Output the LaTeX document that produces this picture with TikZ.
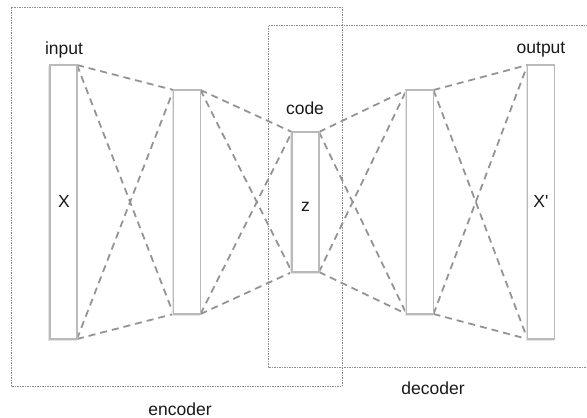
\documentclass[tikz,border=0pt]{standalone}
\usepackage{fontspec}
\setmainfont{Liberation Sans}[Ligatures=TeXOff]
\begin{document}
\begin{tikzpicture}[x=1pt,y=-1pt,
  bar/.style={draw=black!25, fill=white, line width=1.4pt, minimum width=27pt, inner sep=0pt, outer sep=0pt},
  link/.style={draw=black!42, line width=1.8pt, dash pattern=on 7pt off 5pt},
  group/.style={draw=black!45, line width=0.6pt, dash pattern=on 1.5pt off 1pt},
  lbl/.style={font=\fontsize{17.5}{20}\selectfont, inner sep=0pt, text=black!90}]
\useasboundingbox (0,0) rectangle (587,418);
% group boxes
\draw[group] (11,7) rectangle (342,386);
\draw[group] (590,25) -- (268,25) -- (268,367) -- (590,367);
\node[lbl] (enc) at (180,409) {encoder};
\node[lbl] (dec) at (433,388) {decoder};
% layers (coordinates only, drawn later)
\path (63.5,202) node[bar, minimum height=274pt, draw=none, fill=none] (l1) {};
\path (187,202) node[bar, minimum height=224pt, draw=none, fill=none] (l2) {};
\path (305.5,202) node[bar, minimum height=140pt, draw=none, fill=none] (l3) {};
\path (420,202) node[bar, minimum height=224pt, draw=none, fill=none] (l4) {};
\path (541,202) node[bar, minimum height=274pt, draw=none, fill=none] (l5) {};
% links
\foreach \a/\b in {l1/l2,l2/l3,l3/l4,l4/l5}{
  \draw[link] (\a.north east) -- (\b.north west);
  \draw[link] (\a.south east) -- (\b.south west);
  \draw[link] (\a.north east) -- (\b.south west);
  \draw[link] (\a.south east) -- (\b.north west);
}
% bars
\foreach \n in {l1,l2,l3,l4,l5}{
  \draw[draw=black!10, line width=1.4pt] ([xshift=-1pt,yshift=-1.2pt]\n.north west) rectangle ([xshift=-1pt,yshift=-1.2pt]\n.south east);
  \draw[draw=black!27, fill=white, line width=1.3pt] (\n.north west) rectangle (\n.south east);
}
% labels
\node[lbl] (tin) at (64,50) {input};
\node[lbl] (tout) at (541,50) {output};
\node[lbl] (tcode) at (305,108) {code};
\node[lbl] (tx) at (64,201) {X};
\node[lbl] (tz) at (305.5,207) {z};
\node[lbl] (txp) at (541,201) {X'};
\end{tikzpicture}
\end{document}
